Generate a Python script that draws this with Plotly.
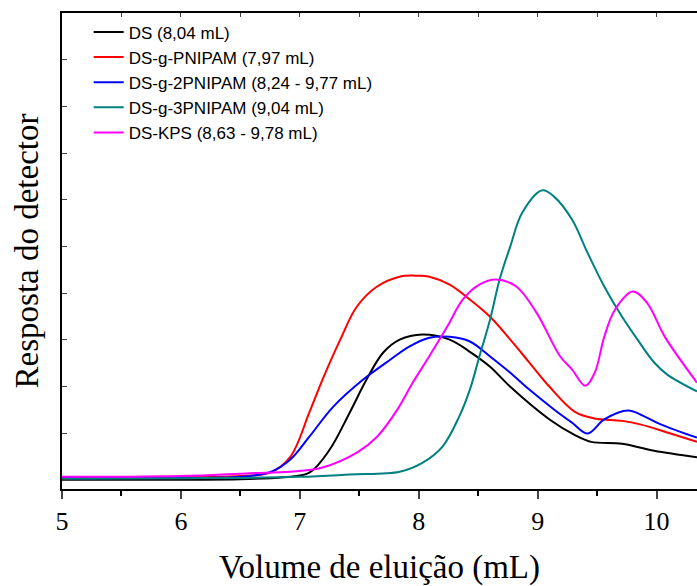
import plotly.graph_objects as go

x_ds = [5.0, 6.0, 6.5, 6.86, 7.08, 7.25, 7.42, 7.56, 7.70, 7.84, 8.03, 8.26, 8.43, 8.60, 8.77, 9.10, 9.31, 9.45, 9.71, 9.98, 10.34]
y_ds = [0.0, 0.0, 0.01, 0.05, 0.15, 0.64, 1.44, 2.14, 2.72, 3.0, 3.11, 3.0, 2.74, 2.42, 1.99, 1.29, 0.96, 0.81, 0.77, 0.62, 0.48]

x_p1 = [5.0, 6.0, 6.5, 6.75, 6.92, 7.08, 7.19, 7.34, 7.48, 7.65, 7.84, 8.0, 8.09, 8.26, 8.43, 8.60, 8.77, 8.93, 9.10, 9.31, 9.48, 9.71, 9.87, 10.09, 10.34]
y_p1 = [0.05, 0.06, 0.08, 0.15, 0.49, 1.44, 2.14, 3.0, 3.71, 4.14, 4.35, 4.37, 4.35, 4.18, 3.86, 3.49, 3.0, 2.51, 1.99, 1.46, 1.31, 1.26, 1.18, 1.01, 0.81]

x_p2 = [5.0, 6.0, 6.5, 6.76, 6.92, 7.08, 7.28, 7.53, 7.76, 7.92, 8.09, 8.26, 8.43, 8.60, 8.77, 8.93, 9.14, 9.29, 9.42, 9.56, 9.76, 9.90, 10.04, 10.34]
y_p2 = [0.03, 0.04, 0.06, 0.17, 0.43, 0.92, 1.56, 2.14, 2.57, 2.85, 3.04, 3.06, 2.96, 2.64, 2.29, 1.93, 1.5, 1.22, 0.99, 1.29, 1.48, 1.35, 1.18, 0.90]

x_p3 = [5.0, 6.0, 7.0, 7.42, 7.84, 8.03, 8.20, 8.34, 8.43, 8.51, 8.60, 8.68, 8.77, 8.87, 9.04, 9.14, 9.29, 9.42, 9.56, 9.71, 9.84, 9.98, 10.09, 10.34]
y_p3 = [0.02, 0.03, 0.06, 0.11, 0.17, 0.36, 0.71, 1.35, 1.93, 2.64, 3.43, 4.29, 5.0, 5.72, 6.2, 6.06, 5.57, 4.86, 4.14, 3.49, 3.0, 2.51, 2.25, 1.89]

x_kps = [5.0, 6.0, 6.58, 6.92, 7.19, 7.48, 7.65, 7.82, 7.95, 8.09, 8.24, 8.37, 8.51, 8.65, 8.82, 8.99, 9.19, 9.29, 9.40, 9.48, 9.56, 9.65, 9.80, 9.92, 10.07, 10.34]
y_kps = [0.06, 0.08, 0.14, 0.17, 0.26, 0.58, 0.92, 1.5, 2.08, 2.65, 3.28, 3.86, 4.18, 4.29, 4.14, 3.58, 2.64, 2.36, 2.01, 2.29, 3.06, 3.64, 4.03, 3.79, 3.06, 2.08]

series = [
    ("DS (8,04 mL)", x_ds, y_ds, "#000000"),
    ("DS-g-PNIPAM (7,97 mL)", x_p1, y_p1, "#ff0000"),
    ("DS-g-2PNIPAM (8,24 - 9,77 mL)", x_p2, y_p2, "#0000ff"),
    ("DS-g-3PNIPAM (9,04 mL)", x_p3, y_p3, "#008080"),
    ("DS-KPS (8,63 - 9,78 mL)", x_kps, y_kps, "#ff00ff"),
]

x_ticks = [5, 6, 7, 8, 9, 10]

fig = go.Figure()
for name, xs, ys, c in series:
    fig.add_trace(go.Scatter(x=xs, y=ys, mode="lines", name=name,
                             line=dict(color=c, width=2, shape="spline", smoothing=1.0)))

# invisible trace for top axis
fig.add_trace(go.Scatter(x=[5, 10.34], y=[0, 0], xaxis="x2", mode="lines",
                         line=dict(width=0), showlegend=False, hoverinfo="skip"))

serif = "Liberation Serif, Times New Roman, serif"
fig.update_layout(
    width=697, height=586,
    margin=dict(l=62, r=0, t=13, b=97),
    plot_bgcolor="white", paper_bgcolor="white",
    showlegend=True,
    legend=dict(x=0.042, y=0.997, xanchor="left", yanchor="top",
                font=dict(family="Liberation Sans, Arial, sans-serif", size=17, color="black"),
                bgcolor="rgba(0,0,0,0)", tracegroupgap=0),
    xaxis=dict(range=[5, 10.34], tickvals=x_ticks, ticks="outside", ticklen=8, tickwidth=1.5,
               showline=True, linecolor="black", linewidth=2, mirror=False,
               showgrid=False, zeroline=False, automargin=False,
               minor=dict(dtick=0.5, ticks="outside", ticklen=5, tickwidth=1.5, tickcolor="black"),
               tickfont=dict(family=serif, size=26, color="black"),
               title=dict(text="Volume de eluição (mL)", font=dict(family=serif, size=33, color="black"),
                          standoff=21)),
    xaxis2=dict(range=[5, 10.34], overlaying="x", side="top", showticklabels=False,
                ticks="inside", ticklen=4, tickwidth=1, dtick=0.5, tick0=5, automargin=False,
                showline=True, linecolor="black", linewidth=2, showgrid=False, zeroline=False),
    yaxis=dict(range=[-0.2, 10.0], tickvals=list(range(0, 11)), ticks="inside", ticklen=5, tickwidth=1,
               showticklabels=False, showline=True, linecolor="black", linewidth=2,
               showgrid=False, zeroline=False, automargin=False,
               title=dict(text="Resposta do detector", font=dict(family=serif, size=33, color="black"),
                          standoff=11)),
)

fig.write_html("out.html")
